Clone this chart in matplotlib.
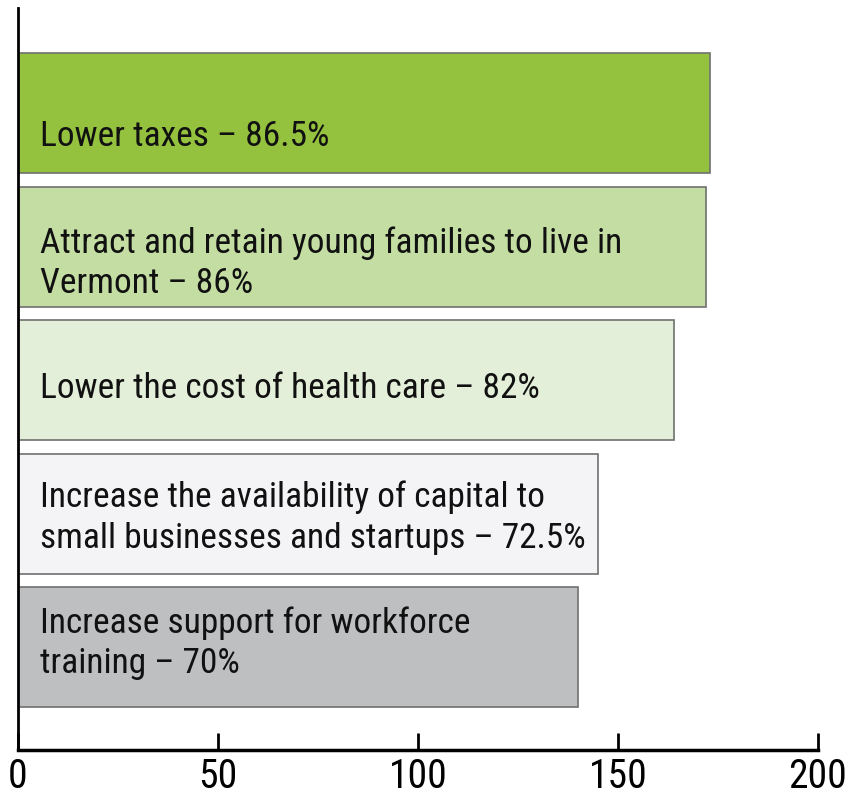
import matplotlib
matplotlib.use("Agg")
from matplotlib import pyplot as plt
from matplotlib import font_manager as fm

# survey priorities (bar length is twice the percentage on a 0-200 scale)
labels = [
    "Lower taxes \u2013 86.5%",
    "Attract and retain young families to live in\nVermont \u2013 86%",
    "Lower the cost of health care \u2013 82%",
    "Increase the availability of capital to\nsmall businesses and startups \u2013 72.5%",
    "Increase support for workforce\ntraining \u2013 70%",
]
values = [173, 172, 164, 145, 140]
xticks = [0, 50, 100, 150, 200]

colors = ["#94C13E", "#C4DDA3", "#E3EFD8", "#F4F4F6", "#BEBFC1"]
label_dy = [0.17, 0.12, 0.06, 0.03, -0.03]

# pick a condensed face if one is around, the original uses a narrow sans
installed = {f.name for f in fm.fontManager.ttflist}
family = "DejaVu Sans"
for name in ["Roboto Condensed", "Archivo Narrow", "Barlow Semi Condensed", "Asap Condensed"]:
    if name in installed:
        family = name
        break
plt.rcParams["font.family"] = [family, "DejaVu Sans"]

fig = plt.figure(figsize=(8.48, 7.95), dpi=100)
ax = fig.add_axes([18 / 848, 45 / 795, 800 / 848, 742 / 795])

ypos = list(range(len(values)))
ax.barh(ypos, values, height=0.9, color=colors, edgecolor="#707070", linewidth=1.2)

for y, lab, dy in zip(ypos, labels, label_dy):
    ax.text(5.5, y + dy, lab, va="center", ha="left", fontsize=25.5,
            linespacing=1.28, color="#111111")

ax.set_xlim(0, 200)
ax.set_ylim(4.77, -0.79)
ax.set_xticks(xticks)
ax.set_yticks([])
ax.tick_params(axis="x", direction="in", length=12.5, width=2, labelsize=28.5,
               pad=5, color="black")

for side in ["top", "right"]:
    ax.spines[side].set_visible(False)
ax.spines["left"].set_linewidth(2)
ax.spines["bottom"].set_linewidth(2.5)

fig.savefig("out.png", dpi=100)
